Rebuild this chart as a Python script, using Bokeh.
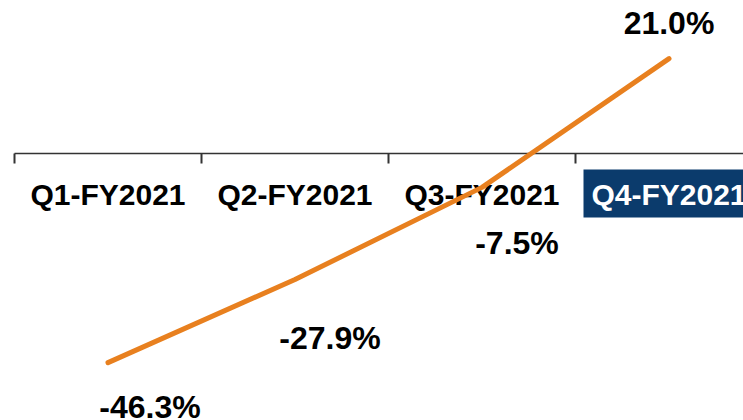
from bokeh.plotting import figure
from bokeh.models import ColumnDataSource, Range1d
from bokeh.core.properties import value
from bokeh.embed import file_html
from bokeh.resources import INLINE

# ---- data ----
categories = ["Q1-FY2021", "Q2-FY2021", "Q3-FY2021", "Q4-FY2021"]
growth = [-46.3, -27.9, -7.5, 21.0]
value_labels = ["-46.3%", "-27.9%", "-7.5%", "21.0%"]
highlight = "Q4-FY2021"

# ---- layout (pixels) ----
W, H = 743, 420
PX_PER_CAT = 187.0
PX_PER_UNIT = 4.517
X0_PX = 14.0     # x of first category boundary inside figure
Y0_PX = 153.0    # y of zero line inside figure

FONT = value("Liberation Sans")

p = figure(width=W, height=H, output_backend="svg", toolbar_location=None,
           x_axis_location=None, y_axis_location=None, min_border=0,
           outline_line_color=None, background_fill_color="white",
           border_fill_color="white")
p.x_range = Range1d(-X0_PX / PX_PER_CAT, (W - X0_PX) / PX_PER_CAT)
p.y_range = Range1d(-(H - Y0_PX) / PX_PER_UNIT, Y0_PX / PX_PER_UNIT)
p.xgrid.visible = False
p.ygrid.visible = False

n = len(categories)
centers = [i + 0.5 for i in range(n)]

# axis line at zero and ticks at category boundaries
p.segment(x0=[0], y0=[0], x1=[n + 0.5], y1=[0], line_color="#333333", line_width=1.6)
tick_len = 10 / PX_PER_UNIT
p.segment(x0=list(range(n)), y0=[0] * n, x1=list(range(n)), y1=[-tick_len] * n,
          line_color="#333333", line_width=2)

# highlight box behind the highlighted category label
hi = categories.index(highlight)
box_left = hi + (583.0 - X0_PX) / PX_PER_CAT - 3.0
p.quad(left=[box_left], right=[hi + 1.5], top=[-16 / PX_PER_UNIT], bottom=[-64 / PX_PER_UNIT],
       fill_color="#0b3b6c", line_color=None)

# category labels
lab_src = ColumnDataSource(dict(
    x=centers, y=[0] * n, text=categories,
    color=["white" if c == highlight else "black" for c in categories],
))
p.text(x="x", y="y", text="text", source=lab_src, text_color="color",
       text_font=FONT, text_font_style="bold", text_font_size="30px",
       text_align="center", text_baseline="alphabetic", y_offset=41)

# line
p.line(x=centers, y=growth, line_color="#e8801f", line_width=5, line_cap="round",
       line_join="round")

# value labels
val_src = ColumnDataSource(dict(
    x=centers, y=growth, text=value_labels,
    xo=[42, 35, 35, 0], yo=[44, 58, 56, -36],
))
p.text(x="x", y="y", text="text", source=val_src, x_offset="xo", y_offset="yo",
       text_color="black", text_font=FONT, text_font_style="bold",
       text_font_size="32px", text_align="center", text_baseline="alphabetic")

open("out.html", "w").write(file_html(p, INLINE))
